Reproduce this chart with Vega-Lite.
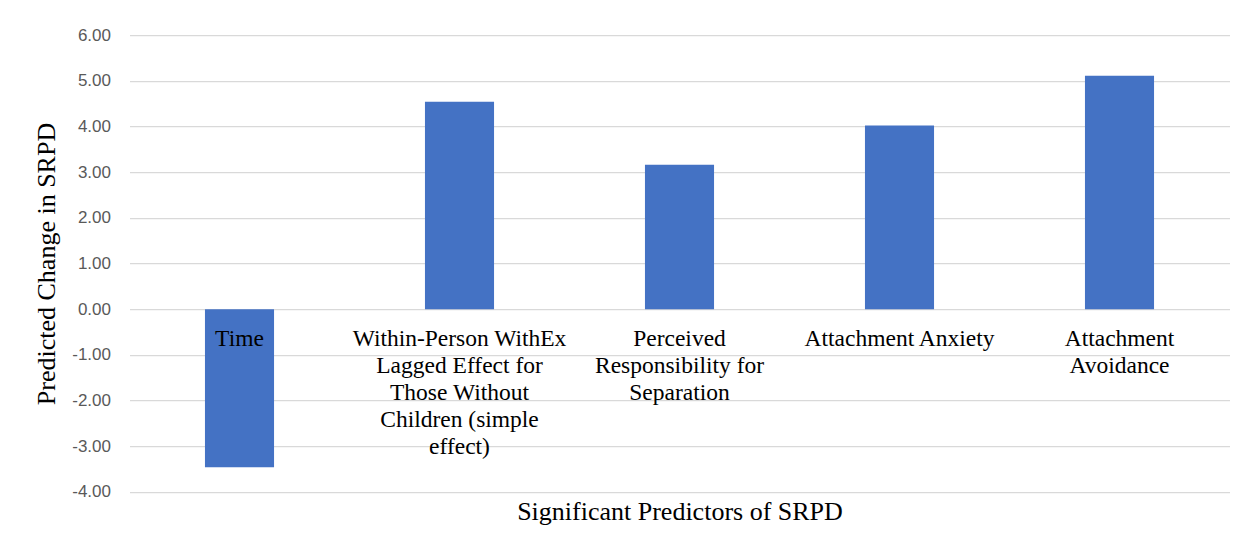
{
  "$schema": "https://vega.github.io/schema/vega-lite/v6.json",
  "width": 1100,
  "height": 456.6,
  "autosize": {"type": "none"},
  "padding": {"left": 129.5, "top": 35.2, "right": 22.5, "bottom": 55.2},
  "background": "white",
  "config": {"view": {"stroke": null}, "font": "Liberation Serif"},
  "data": {
    "values": [
      {"category": "Time", "value": -3.46, "label": "Time"},
      {"category": "WithEx", "value": 4.54, "label": "Within-Person WithEx\nLagged Effect for\nThose Without\nChildren (simple\neffect)"},
      {"category": "Responsibility", "value": 3.16, "label": "Perceived\nResponsibility for\nSeparation"},
      {"category": "Anxiety", "value": 4.02, "label": "Attachment Anxiety"},
      {"category": "Avoidance", "value": 5.11, "label": "Attachment\nAvoidance"}
    ]
  },
  "encoding": {
    "x": {
      "field": "category",
      "type": "nominal",
      "sort": null,
      "scale": {"paddingInner": 0.686, "paddingOuter": 0.343},
      "axis": {
        "labels": false,
        "ticks": false,
        "domain": false,
        "title": "Significant Predictors of SRPD",
        "titleFont": "Liberation Serif",
        "titleFontSize": 26,
        "titleFontWeight": "normal",
        "titleColor": "black",
        "titlePadding": 7
      }
    }
  },
  "layer": [
    {
      "mark": {"type": "bar", "color": "#4472C4"},
      "encoding": {
        "y": {
          "field": "value",
          "type": "quantitative",
          "scale": {"domain": [-4, 6], "nice": false, "zero": false},
          "axis": {
            "values": [-4, -3, -2, -1, 0, 1, 2, 3, 4, 5, 6],
            "format": ".2f",
            "labelExpr": "replace(datum.label, '−', '-')",
            "labelFont": "Liberation Sans",
            "labelFontSize": 17,
            "labelColor": "#595959",
            "labelPadding": 19,
            "ticks": false,
            "domain": false,
            "gridColor": "#d9d9d9",
            "gridWidth": 1.3,
            "title": "Predicted Change in SRPD",
            "titleFont": "Liberation Serif",
            "titleFontSize": 26,
            "titleFontWeight": "normal",
            "titleColor": "black",
            "titlePadding": 12
          }
        }
      }
    },
    {
      "mark": {
        "type": "text",
        "baseline": "alphabetic",
        "dy": 36.5,
        "lineBreak": "\n",
        "lineHeight": 27,
        "fontSize": 23.5,
        "font": "Liberation Serif",
        "color": "black"
      },
      "encoding": {
        "y": {
          "datum": 0,
          "type": "quantitative",
          "axis": {
            "values": [-4, -3, -2, -1, 0, 1, 2, 3, 4, 5, 6],
            "format": ".2f",
            "labelExpr": "replace(datum.label, '−', '-')",
            "labelFont": "Liberation Sans",
            "labelFontSize": 17,
            "labelColor": "#595959",
            "labelPadding": 19,
            "ticks": false,
            "domain": false,
            "gridColor": "#d9d9d9",
            "gridWidth": 1.3,
            "title": "Predicted Change in SRPD",
            "titleFont": "Liberation Serif",
            "titleFontSize": 26,
            "titleFontWeight": "normal",
            "titleColor": "black",
            "titlePadding": 12
          }
        },
        "text": {"field": "label"}
      }
    }
  ]
}
